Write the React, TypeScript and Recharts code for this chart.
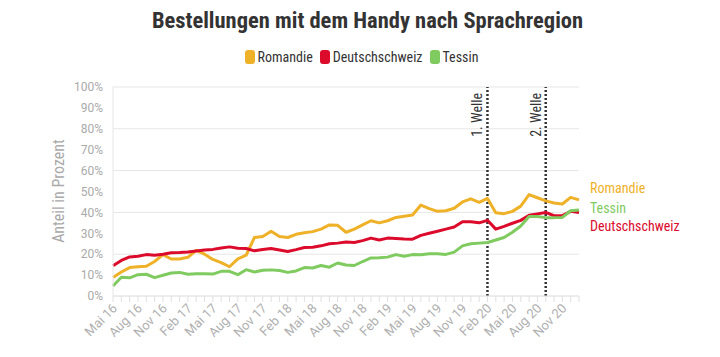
import React from 'react';
import { LineChart, Line, XAxis, YAxis, CartesianGrid, ReferenceLine } from 'recharts';

const MONTHS = [
  'Mai 16', 'Jun 16', 'Jul 16', 'Aug 16', 'Sep 16', 'Okt 16', 'Nov 16', 'Dez 16',
  'Jan 17', 'Feb 17', 'Mär 17', 'Apr 17', 'Mai 17', 'Jun 17', 'Jul 17', 'Aug 17', 'Sep 17', 'Okt 17', 'Nov 17', 'Dez 17',
  'Jan 18', 'Feb 18', 'Mär 18', 'Apr 18', 'Mai 18', 'Jun 18', 'Jul 18', 'Aug 18', 'Sep 18', 'Okt 18', 'Nov 18', 'Dez 18',
  'Jan 19', 'Feb 19', 'Mär 19', 'Apr 19', 'Mai 19', 'Jun 19', 'Jul 19', 'Aug 19', 'Sep 19', 'Okt 19', 'Nov 19', 'Dez 19',
  'Jan 20', 'Feb 20', 'Mär 20', 'Apr 20', 'Mai 20', 'Jun 20', 'Jul 20', 'Aug 20', 'Sep 20', 'Okt 20', 'Nov 20', 'Dez 20',
  'Jan 21',
];

const ROMANDIE = [
  8.8, 11.5, 13.6, 14, 14.2, 16.5, 19.8, 17.7, 17.7, 18.5, 21.8, 20, 17.5, 16, 14, 17.8, 19.5, 28, 28.5, 31,
  28.5, 28, 29.5, 30.3, 30.8, 32, 34, 33.8, 30.5, 32, 34, 36, 35, 36, 37.6, 38.2, 38.8, 43.5, 41.8, 40.5,
  40.8, 42, 45, 46.5, 44.8, 46.7, 39.8, 39.4, 40.5, 43, 48.5, 47, 45.5, 44.5, 44, 47.2, 46,
];

const DEUTSCHSCHWEIZ = [
  14.5, 17, 18.7, 19, 19.8, 19.5, 20, 20.7, 20.8, 21, 21.5, 22, 22.3, 23, 23.5, 22.8, 22.7, 21.6, 22.2, 22.7,
  22, 21.3, 22.2, 23.2, 23.3, 24, 25, 25.3, 25.8, 25.6, 26.5, 27.7, 26.8, 27.7, 27.5, 27.3, 27.2, 29, 30, 31,
  32, 33, 35.5, 35.5, 35, 36.2, 32, 33.3, 34.8, 36.2, 38.6, 39.3, 40, 38.4, 38.5, 40.5, 40,
];

const TESSIN = [
  4.8, 9, 8.7, 10.2, 10.4, 8.8, 9.9, 11, 11.3, 10.4, 10.6, 10.7, 10.5, 11.8, 11.8, 10.2, 12.6, 11.5, 12.3, 12.5,
  12.2, 11.3, 12, 13.6, 13.4, 14.6, 13.8, 15.8, 14.8, 14.6, 16.5, 18.2, 18.3, 18.6, 19.8, 19, 19.8, 19.7, 20.2, 20.2,
  19.9, 21, 24, 25, 25.3, 25.6, 26.8, 28, 30.5, 33.5, 38, 38, 37.5, 37.5, 37.6, 40.8, 41.2,
];

const Y_TICKS = [0, 10, 20, 30, 40, 50, 60, 70, 80, 90, 100];
const LABEL_STEP = 3;
const LAST_LABELED = 'Nov 20';
const WAVES = [
  { month: 'Feb 20', label: '1. Welle' },
  { month: 'Sep 20', label: '2. Welle' },
];

const SERIES = [
  { key: 'romandie', name: 'Romandie', color: '#EFB128', labelDy: -12 },
  { key: 'deutschschweiz', name: 'Deutschschweiz', color: '#DC0A2B', labelDy: 14 },
  { key: 'tessin', name: 'Tessin', color: '#7FCB5F', labelDy: -2 },
];

const data = MONTHS.map((m, i) => ({
  month: m,
  romandie: ROMANDIE[i],
  deutschschweiz: DEUTSCHSCHWEIZ[i],
  tessin: TESSIN[i],
}));

const COND = '"Roboto Condensed", "Liberation Sans Narrow", "DejaVu Sans Condensed", Roboto, sans-serif';
const AXIS_FONT = 'Roboto, "Noto Sans", sans-serif';
const GRAY = '#aaaaaa';

const lastLabeledIdx = MONTHS.indexOf(LAST_LABELED);

const XTick = (props: any) => {
  const { x, y, payload } = props;
  const idx = MONTHS.indexOf(payload.value);
  if (idx % LABEL_STEP !== 0 || idx > lastLabeledIdx) return null;
  const ax = x + 5;
  const ay = y + 5;
  return (
    <text
      x={ax}
      y={ay}
      transform={`rotate(-45 ${ax} ${ay})`}
      textAnchor="end"
      fill="#b0b0b0"
      fontSize={13}
      fontFamily={AXIS_FONT}
    >
      {payload.value}
    </text>
  );
};

const waveLabel = (text: string) => (props: any) => {
  const vb = props.viewBox || {};
  const lx = vb.x - 5;
  const ly = vb.y + 6;
  return (
    <text
      x={lx}
      y={ly}
      transform={`rotate(-90 ${lx} ${ly})`}
      textAnchor="end"
      fill="#333"
      fontSize={14}
      fontFamily={COND}
    >
      {text}
    </text>
  );
};

const endLabel = (name: string, color: string, dy: number) => (props: any) => {
  const { x, y, index } = props;
  if (index !== MONTHS.length - 1) return null;
  return (
    <text
      x={x + 11}
      y={y + dy}
      dominantBaseline="central"
      fill={color}
      fontSize={14}
      fontFamily={COND}
    >
      {name}
    </text>
  );
};

export default function App() {
  return (
    <div style={{ position: 'absolute', left: 0, top: 0, width: 720, height: 357, background: '#fff' }}>
      <div
        style={{
          position: 'absolute',
          left: 0,
          top: 5,
          width: 735,
          textAlign: 'center',
          fontFamily: COND,
          fontWeight: 700,
          fontSize: 22.5,
          color: '#333',
          lineHeight: '30px',
        }}
      >
        Bestellungen mit dem Handy nach Sprachregion
      </div>
      <div
        style={{
          position: 'absolute',
          left: 0,
          top: 47,
          width: 730,
          display: 'flex',
          justifyContent: 'center',
          alignItems: 'center',
          fontFamily: COND,
          fontSize: 14,
          color: '#333',
          lineHeight: '20px',
        }}
      >
        {SERIES.map((s) => (
          <div key={s.key} style={{ display: 'flex', alignItems: 'center', marginRight: 7 }}>
            <span
              style={{
                display: 'inline-block',
                width: 10,
                height: 14,
                borderRadius: 3,
                background: s.color,
                marginRight: 3,
              }}
            />
            <span>{s.name}</span>
          </div>
        ))}
      </div>
      <div style={{ position: 'absolute', left: 0, top: 0 }}>
        <LineChart
          width={720}
          height={357}
          data={data}
          margin={{ top: 87, right: 141, bottom: 11, left: 53 }}
        >
          <CartesianGrid horizontal vertical={false} stroke="#e6e6e6" />
          <XAxis
            dataKey="month"
            interval={0}
            height={50}
            tick={<XTick />}
            tickLine={{ stroke: '#e0e0e0' }}
            axisLine={{ stroke: '#e6e6e6' }}
            tickSize={6}
          />
          <YAxis
            type="number"
            domain={[0, 100]}
            ticks={Y_TICKS}
            width={60}
            tickFormatter={(v: number) => `${v}%`}
            tick={{ fill: GRAY, fontSize: 12, fontFamily: AXIS_FONT }}
            tickLine={false}
            axisLine={{ stroke: '#e6e6e6' }}
            tickMargin={4}
            label={() => (
              <text
                x={64}
                y={191}
                transform="rotate(-90 64 191)"
                textAnchor="middle"
                fill={GRAY}
                fontSize={16}
                fontFamily={COND}
              >
                Anteil in Prozent
              </text>
            )}
          />
          {WAVES.map((w) => (
            <ReferenceLine
              key={w.month}
              x={w.month}
              stroke="#333"
              strokeWidth={2.5}
              strokeDasharray="2 2"
              label={waveLabel(w.label)}
            />
          ))}
          {SERIES.map((s) => (
            <Line
              key={s.key}
              type="linear"
              dataKey={s.key}
              name={s.name}
              stroke={s.color}
              strokeWidth={3}
              dot={false}
              activeDot={false}
              strokeLinejoin="round"
              isAnimationActive={false}
              label={endLabel(s.name, s.color, s.labelDy)}
            />
          ))}
        </LineChart>
      </div>
    </div>
  );
}
